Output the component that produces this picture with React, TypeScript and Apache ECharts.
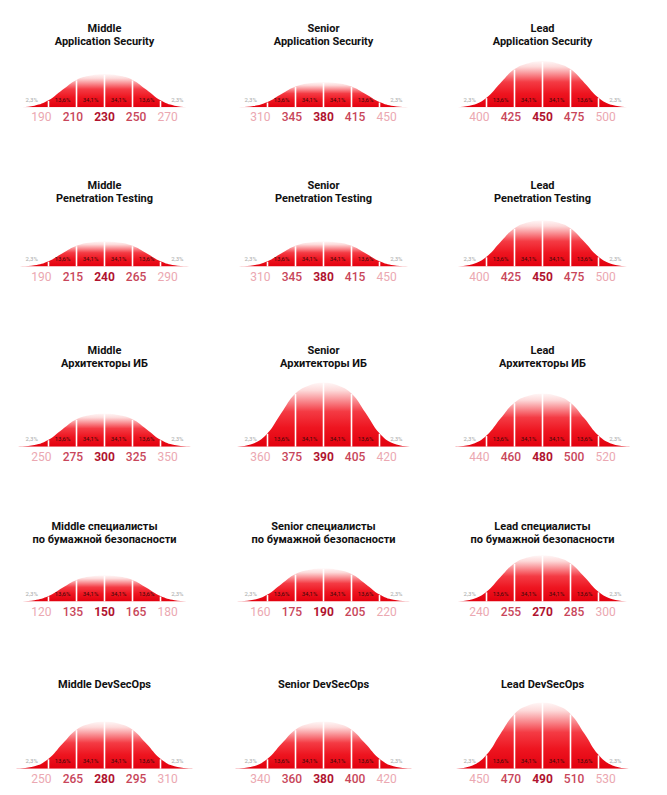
import React, { useEffect, useRef } from 'react';
import * as echarts from 'echarts';

const TITLES = [
  'Middle\nApplication Security', 'Senior\nApplication Security', 'Lead\nApplication Security',
  'Middle\nPenetration Testing', 'Senior\nPenetration Testing', 'Lead\nPenetration Testing',
  'Middle\nАрхитекторы ИБ', 'Senior\nАрхитекторы ИБ', 'Lead\nАрхитекторы ИБ',
  'Middle специалисты\nпо бумажной безопасности', 'Senior специалисты\nпо бумажной безопасности', 'Lead специалисты\nпо бумажной безопасности',
  'Middle DevSecOps', 'Senior DevSecOps', 'Lead DevSecOps',
];

const TICKS = [
  [190, 210, 230, 250, 270], [310, 345, 380, 415, 450], [400, 425, 450, 475, 500],
  [190, 215, 240, 265, 290], [310, 345, 380, 415, 450], [400, 425, 450, 475, 500],
  [250, 275, 300, 325, 350], [360, 375, 390, 405, 420], [440, 460, 480, 500, 520],
  [120, 135, 150, 165, 180], [160, 175, 190, 205, 220], [240, 255, 270, 285, 300],
  [250, 265, 280, 295, 310], [340, 360, 380, 400, 420], [450, 470, 490, 510, 530],
];

// peak height of each bell (same units for all panels)
const PEAKS = [33, 25, 46, 25, 25, 46, 33, 64, 53, 26, 33, 46, 47, 47, 66];

// bell profile (x in sigma units, y relative to peak)
const PROFILE_X = [-3.15, -2.5, -2, -1.5, -1, -0.5, 0, 0.5, 1, 1.5, 2, 2.5, 3.15];
const PROFILE_Y = [0, 0.05, 0.21, 0.53, 0.83, 0.96, 1, 0.96, 0.83, 0.53, 0.21, 0.05, 0];

const DIVIDERS = [-2, -1, 0, 1, 2];
const SHARE_X = [-2.6, -1.5, -0.5, 0.5, 1.5, 2.6];
const SHARE_LABELS = ['2,3%', '13,6%', '34,1%', '34,1%', '13,6%', '2,3%'];

// layout
const COL_X = [104.5, 323.5, 542.5];
const BASE_Y = [107.3, 266.5, 446.7, 601.5, 768.7];
const TITLE_Y = [28.5, 185.5, 350.5, 526, 684.3];
const SIGMA_PX = 28;
const LABEL_STEP_PX = 31.6;
const X_HALF = 3.2;
const Y_MAX = 70;

export default function App() {
  const ref = useRef<HTMLDivElement>(null);

  useEffect(() => {
    if (!ref.current) return;
    const chart = echarts.init(ref.current, null, { renderer: 'svg' });

    const grids: any[] = [];
    const xAxes: any[] = [];
    const yAxes: any[] = [];
    const series: any[] = [];
    const graphics: any[] = [];

    TITLES.forEach((title, i) => {
      const col = i % 3;
      const row = Math.floor(i / 3);
      const cx = COL_X[col];
      const base = BASE_Y[row];
      const halfPx = X_HALF * SIGMA_PX;
      grids.push({ left: cx - halfPx, width: 2 * halfPx, top: base - Y_MAX, height: Y_MAX });

      const ticks = TICKS[i];
      const mid = ticks[2];
      const step = ticks[1] - ticks[0];
      const half = (halfPx / LABEL_STEP_PX) * step;

      xAxes.push({ gridIndex: i, type: 'value', min: -X_HALF, max: X_HALF, show: false });
      xAxes.push({
        gridIndex: i,
        type: 'value',
        position: 'bottom',
        min: mid - half,
        max: mid + half,
        axisLine: { show: false },
        axisTick: { show: false },
        splitLine: { show: false },
        axisLabel: {
          customValues: ticks,
          margin: 4,
          formatter: (v: number) => {
            const k = ticks.indexOf(v);
            const key = k === 2 ? 'c' : k === 1 || k === 3 ? 'm' : 'o';
            return `{${key}|${v}}`;
          },
          rich: {
            o: { color: '#eba8b1', fontSize: 12, fontFamily: 'Roboto' },
            m: { color: '#c8465a', fontSize: 12, fontFamily: 'Roboto', fontWeight: 500 },
            c: { color: '#b0132f', fontSize: 12, fontFamily: 'Roboto', fontWeight: 'bold' },
          },
        },
      });
      yAxes.push({ gridIndex: i, type: 'value', min: 0, max: Y_MAX, show: false });

      const peak = PEAKS[i];
      series.push({
        type: 'line',
        xAxisIndex: 2 * i,
        yAxisIndex: i,
        data: PROFILE_X.map((x, k) => [x, PROFILE_Y[k] * peak]),
        smooth: 0.45,
        symbol: 'none',
        silent: true,
        lineStyle: { width: 0 },
        areaStyle: {
          opacity: 1,
          color: new echarts.graphic.LinearGradient(0, 0, 0, 1, [
            { offset: 0, color: '#fff6f6' },
            { offset: 0.12, color: '#fddada' },
            { offset: 0.45, color: '#f43b44' },
            { offset: 0.7, color: '#ee1520' },
            { offset: 1, color: '#e2000e' },
          ]),
        },
        z: 2,
      });

      series.push({
        type: 'custom',
        xAxisIndex: 2 * i,
        yAxisIndex: i,
        silent: true,
        z: 3,
        data: DIVIDERS.map((d) => [d, PROFILE_Y[PROFILE_X.indexOf(d)] * peak]),
        renderItem: (_p: any, api: any) => {
          const p0 = api.coord([api.value(0), 0]);
          const p1 = api.coord([api.value(0), api.value(1)]);
          return {
            type: 'line',
            shape: { x1: p0[0], y1: p0[1], x2: p1[0], y2: p1[1] + 0.5 },
            style: { stroke: '#ffffff', lineWidth: 1.6 },
          };
        },
      });

      series.push({
        type: 'custom',
        xAxisIndex: 2 * i,
        yAxisIndex: i,
        silent: true,
        z: 4,
        data: SHARE_X.map((x, k) => [x, 0, k]),
        renderItem: (_p: any, api: any) => {
          const p = api.coord([api.value(0), 0]);
          const k = api.value(2);
          const tail = k === 0 || k === 5;
          return {
            type: 'text',
            x: p[0],
            y: p[1] - 8,
            style: {
              text: SHARE_LABELS[k],
              fill: tail ? '#a9a9a9' : '#3a0a0a',
              fontSize: 6,
              fontFamily: 'Roboto',
              align: 'center',
              verticalAlign: 'middle',
            },
          };
        },
      });

      graphics.push({
        type: 'text',
        x: cx,
        y: TITLE_Y[row] - 6.5,
        style: {
          text: title,
          fill: '#111111',
          fontSize: 11,
          fontWeight: 'bold',
          fontFamily: 'Roboto',
          lineHeight: 13,
          align: 'center',
          verticalAlign: 'top',
        },
      });
    });

    chart.setOption({
      animation: false,
      backgroundColor: '#ffffff',
      grid: grids,
      xAxis: xAxes,
      yAxis: yAxes,
      series,
      graphic: graphics,
    });

    return () => chart.dispose();
  }, []);

  return (
    <div
      ref={ref}
      style={{ position: 'absolute', left: 0, top: 0, width: 667, height: 795 }}
    />
  );
}
